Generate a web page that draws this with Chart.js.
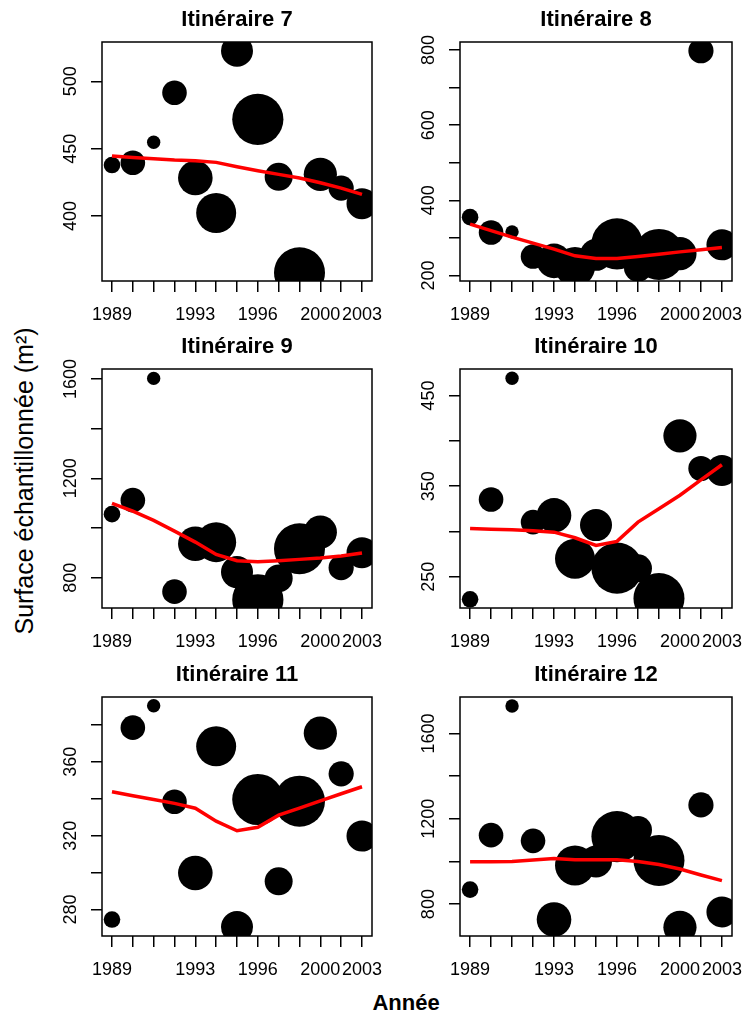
<!DOCTYPE html>
<html>
<head>
<meta charset="utf-8">
<script src="https://cdn.jsdelivr.net/npm/chart.js@4/dist/chart.umd.min.js"></script>
<style>
  body { margin: 0; width: 744px; height: 1014px; background: #fff; position: relative; overflow: hidden;
         font-family: 'Liberation Sans', Arial, sans-serif; color: #000; }
  canvas { position: absolute; }
  #ylab { position: absolute; left: 24px; top: 481px; transform: translate(-50%, -50%) rotate(-90deg);
          font-size: 25px; white-space: nowrap; }
  #xlab { position: absolute; left: 406px; top: 1003px; transform: translate(-50%, -50%);
          font-size: 22px; font-weight: bold; white-space: nowrap; }
</style>
</head>
<body>
<div id="ylab">Surface échantillonnée (m²)</div>
<div id="xlab">Année</div>
<script>
// x positions 0..12, only some of them get a year label
const xLabels = ['1989', '', '', '', '1993', '', '', '1996', '', '', '2000', '', '2003'];
// bubble radius (px) for each year, shared by all panels
const sizes = [8.3, 12.3, 6.7, 12.3, 17.3, 20, 16, 25.6, 14, 25.5, 16.6, 12.6, 15.5];

// surface per year and smoothed trend, one pair per route
const surf7  = [437.8, 439.5, 454.7, 491.5, 428.2, 402.2, 522.7, 471.8, 429.1, 357.8, 430.9, 420.7, 409.1];
const lisse7 = [444.5, 443.5, 442.5, 441.5, 441, 439.8, 436.6, 433.6, 430.9, 428.2, 424.7, 420.7, 416];
const surf8  = [355.3, 314.4, 316.2, 250.6, 239, 223, 255, 284.3, 220.5, 256.2, 258.3, 798, 281.7];
const lisse8 = [336.7, 319.7, 302.1, 286.2, 270.2, 252.4, 245.2, 245.2, 250.6, 256.9, 263, 268.4, 274.5];
const surf9  = [1055.7, 1112, 1602.4, 743.7, 936.7, 943, 822.5, 711, 797, 916.6, 983.3, 840.2, 900.5];
const lisse9 = [1098.7, 1067.8, 1030.4, 987.4, 943.1, 893.7, 868.3, 864.3, 868.3, 873.6, 878.8, 886.8, 898.9];
const surf10  = [225, 335.3, 469.1, 310.3, 317.7, 269.9, 307, 259.5, 259.2, 225.8, 405.6, 369.5, 367.3];
const lisse10 = [303.3, 302.5, 301.8, 300.8, 299.2, 293, 284.6, 289, 310.3, 325, 340, 357, 373.6];
const surf11  = [274.6, 378.5, 390.4, 338.4, 299.8, 368.4, 270.6, 339.6, 295.3, 338.7, 375.5, 353.5, 319.8];
const lisse11 = [343.8, 341.6, 339.6, 337.5, 334.9, 327.9, 322.7, 324.6, 331.1, 334.9, 338.9, 342.7, 346.5];
const surf12  = [868, 1123.4, 1729, 1096.7, 727.6, 981.3, 1000, 1116.8, 1148, 1004.7, 691.6, 1265, 763.5];
const lisse12 = [998.6, 998.6, 1000, 1006.5, 1014, 1008, 1008, 1008, 1000, 986, 964.5, 936.4, 910];

// y ticks and which of them carry a label
const ticks7  = [400, 450, 500];                    const shown7  = [400, 450, 500];
const ticks8  = [200, 300, 400, 500, 600, 700, 800]; const shown8  = [200, 400, 600, 800];
const ticks9  = [800, 1000, 1200, 1400, 1600];       const shown9  = [800, 1200, 1600];
const ticks10 = [250, 300, 350, 400, 450];           const shown10 = [250, 350, 450];
const ticks11 = [280, 300, 320, 340, 360, 380];      const shown11 = [280, 320, 360];
const ticks12 = [800, 1000, 1200, 1400, 1600];       const shown12 = [800, 1200, 1600];

const FONT = "'Liberation Sans', Arial, sans-serif";
const PLOT_H = 239;

const panels = [
  { title: 'Itinéraire 7',  surf: surf7,  fit: lisse7,  ticks: ticks7,  shown: shown7,  min: 351.7, max: 529.2, left: 102, top: 42,  w: 270 },
  { title: 'Itinéraire 8',  surf: surf8,  fit: lisse8,  ticks: ticks8,  shown: shown8,  min: 185.5, max: 821.3, left: 460, top: 42,  w: 272 },
  { title: 'Itinéraire 9',  surf: surf9,  fit: lisse9,  ticks: ticks9,  shown: shown9,  min: 677.8, max: 1640.2, left: 102, top: 369, w: 270 },
  { title: 'Itinéraire 10', surf: surf10, fit: lisse10, ticks: ticks10, shown: shown10, min: 215.4, max: 479.4, left: 460, top: 369, w: 272 },
  { title: 'Itinéraire 11', surf: surf11, fit: lisse11, ticks: ticks11, shown: shown11, min: 265.7, max: 395.1, left: 102, top: 697, w: 270 },
  { title: 'Itinéraire 12', surf: surf12, fit: lisse12, ticks: ticks12, shown: shown12, min: 650.5, max: 1771, left: 460, top: 697, w: 272 }
];

// closed frame around the plotting region
const boxPlugin = {
  id: 'box',
  afterDraw(chart) {
    const { ctx, chartArea: a } = chart;
    ctx.save();
    ctx.strokeStyle = '#000';
    ctx.lineWidth = 1.5;
    ctx.strokeRect(a.left, a.top, a.right - a.left, a.bottom - a.top);
    ctx.restore();
  }
};

const tickGrid = { drawOnChartArea: false, drawTicks: true, tickLength: 11, color: '#000', lineWidth: 1.5 };

// fixed axis thickness, and no extra room for the end labels
function fixSize(prop, size) {
  return s => {
    s[prop] = size;
    s.paddingLeft = s.paddingRight = s.paddingTop = s.paddingBottom = 0;
  };
}

panels.forEach(p => {
  const canvas = document.createElement('canvas');
  canvas.width = 70 + p.w + 10;
  canvas.height = 42 + PLOT_H + 50;
  canvas.style.left = (p.left - 70) + 'px';
  canvas.style.top = (p.top - 42) + 'px';
  document.body.appendChild(canvas);

  const digits = Math.max(...p.shown.map(v => String(v).length));

  new Chart(canvas, {
    type: 'bubble',
    data: {
      datasets: [
        {
          type: 'line',
          data: p.fit.map((v, i) => ({ x: i, y: v })),
          borderColor: '#ff0000',
          borderWidth: 3.5,
          pointRadius: 0,
          tension: 0,
          clip: 0,
          order: 0
        },
        {
          data: p.surf.map((v, i) => ({ x: i, y: v, r: sizes[i] })),
          backgroundColor: '#000',
          borderWidth: 0,
          clip: 0,
          order: 1
        }
      ]
    },
    options: {
      responsive: false,
      animation: false,
      events: [],
      layout: { padding: { right: 10 }, autoPadding: false },
      plugins: {
        legend: { display: false },
        tooltip: { enabled: false },
        title: {
          display: true,
          text: p.title,
          fullSize: false,
          color: '#000',
          font: { family: FONT, size: 22, weight: 'bold', lineHeight: 1 },
          padding: { top: 9, bottom: 11 }
        }
      },
      scales: {
        x: {
          type: 'linear',
          min: -0.48,
          max: 12.48,
          afterBuildTicks: s => { s.ticks = xLabels.map((_, i) => ({ value: i })); },
          afterFit: fixSize('height', 50),
          grid: tickGrid,
          border: { display: false },
          ticks: {
            autoSkip: false, maxRotation: 0, padding: 12, color: '#000',
            font: { family: FONT, size: 18 },
            callback: v => xLabels[v] || ''
          }
        },
        y: {
          min: p.min,
          max: p.max,
          afterBuildTicks: s => { s.ticks = p.ticks.map(v => ({ value: v })); },
          afterFit: fixSize('width', 70),
          grid: tickGrid,
          border: { display: false },
          ticks: {
            autoSkip: false, minRotation: 90, maxRotation: 90, crossAlign: 'center',
            padding: Math.max(0, 20 - digits * 5),
            color: '#000',
            font: { family: FONT, size: 18 },
            callback: v => p.shown.includes(v) ? String(v) : ''
          }
        }
      }
    },
    plugins: [boxPlugin]
  });
});
</script>
</body>
</html>
